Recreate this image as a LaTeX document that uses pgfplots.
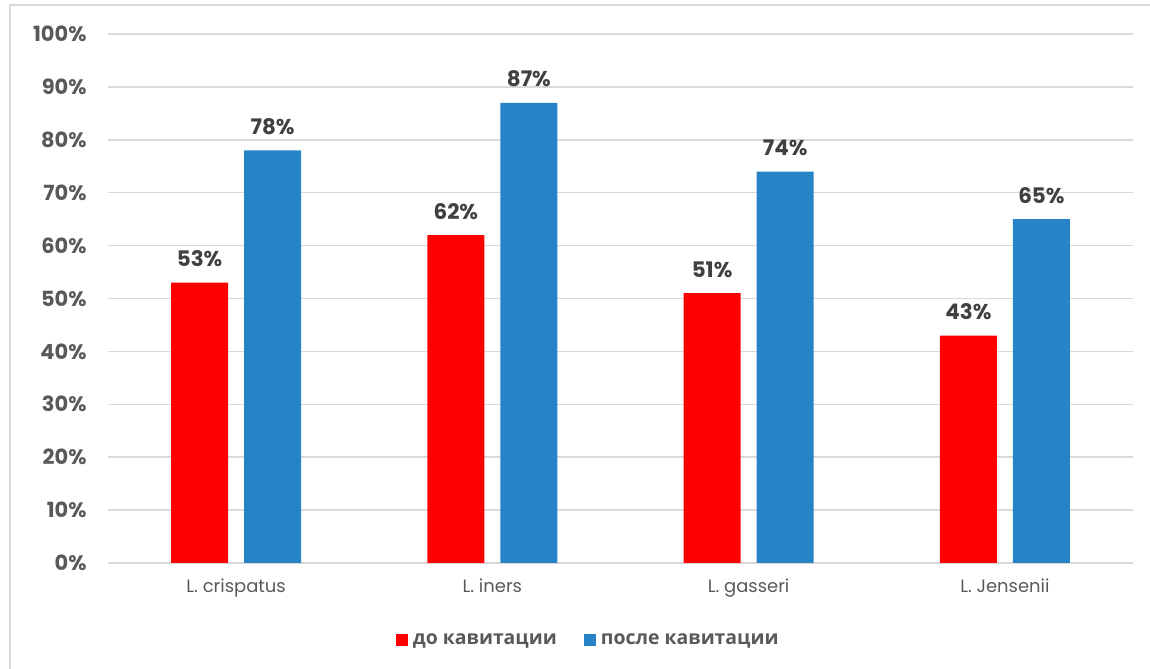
\documentclass[border=0pt]{standalone}
\usepackage{fontspec}
\setmainfont{Poppins}
\newfontfamily\legfont{Open Sans}
\usepackage{pgfplots}
\pgfplotsset{compat=1.18}
\definecolor{redbar}{HTML}{FF0000}
\definecolor{bluebar}{HTML}{2683C6}
\definecolor{gridc}{HTML}{D9D9D9}
\definecolor{tickc}{HTML}{595959}
\definecolor{valc}{HTML}{404040}

\begin{document}
\begin{tikzpicture}[x=1bp,y=1bp]
\useasboundingbox (0,0) rectangle (1150,669);
\draw[gridc, line width=1.5bp] (10,0) -- (10,664) -- (1150,664);
\begin{axis}[
  at={(108bp,106bp)}, anchor=south west,
  scale only axis, width=1025bp, height=529bp,
  xmin=-0.5, xmax=3.5, ymin=0, ymax=100,
  /pgf/number format/assume math mode=true,
  xtick={0,1,2,3},
  xticklabels={L. crispatus, L. iners, L. gasseri, L. Jensenii},
  ytick={0,10,...,100},
  yticklabel={\pgfmathprintnumber{\tick}\%},
  ymajorgrids, grid style={gridc, line width=1.5bp},
  axis line style={draw=none},
  major tick length=0pt,
  yticklabel style={font=\bfseries\fontsize{21}{21}\selectfont, text=tickc, xshift=-18bp},
  xticklabel style={font=\fontsize{18}{18}\selectfont, text=tickc, yshift=-12bp},
  nodes near coords={\pgfmathprintnumber{\pgfplotspointmeta}\%},
  every node near coord/.style={font=\bfseries\fontsize{21.5}{21.5}\selectfont, text=valc, anchor=south, yshift=12bp},
  legend style={at={(0.470,-0.1456)}, anchor=center, draw=none,
    font=\legfont\bfseries\fontsize{19.5}{19.5}\selectfont, text=tickc,
    legend columns=2,
    nodes={inner xsep=5bp},
    /tikz/every even column/.append style={column sep=22bp}},
]
\addplot[ybar, bar width=57bp, bar shift=-36.5bp, fill=redbar, draw=none,
  every node near coord/.append style={xshift=-36.5bp},
  legend image code/.code={\fill[redbar] (0bp,-6bp) rectangle (12bp,6bp);}]
  coordinates {(0,53) (1,62) (2,51) (3,43)};
\addlegendentry{до кавитации}
\addplot[ybar, bar width=57bp, bar shift=36.5bp, fill=bluebar, draw=none,
  every node near coord/.append style={xshift=36.5bp},
  legend image code/.code={\fill[bluebar] (0bp,-6bp) rectangle (12bp,6bp);}]
  coordinates {(0,78) (1,87) (2,74) (3,65)};
\addlegendentry{после кавитации}
\end{axis}
\end{tikzpicture}
\end{document}
